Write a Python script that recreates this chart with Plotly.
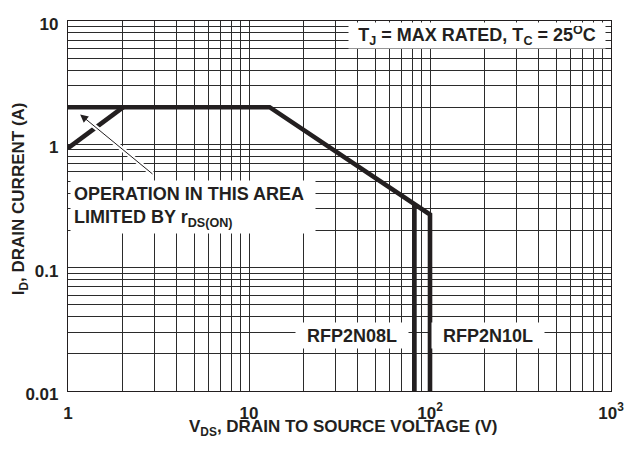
import plotly.graph_objects as go

# ---------------- data ----------------
# Safe operating area boundary for RFP2N10L (rated 100 V)
soa_vds = [1, 13, 100, 100]
soa_id = [2.0, 2.0, 0.27, 0.01]
# RFP2N08L voltage limit
n08_vds = [82, 82]
n08_id = [0.33, 0.01]
# rDS(on) limited line
rds_vds = [1, 2.02]
rds_id = [0.93, 2.0]

x_major = [1, 10, 100, 1000]
x_major_text = ["1", "10", "10<sup>2</sup>", "10<sup>3</sup>"]
x_minor = [m * 10 ** k for k in range(0, 3) for m in range(2, 10)]
y_major = [0.01, 0.1, 1, 10]
y_major_text = ["0.01", "0.1", "1", "10"]
y_minor = [m * 10 ** k for k in range(-2, 1) for m in range(2, 10)]

FONT = "Liberation Sans, Arial, Helvetica, sans-serif"
INK = "#231f20"
GRID = "#2b2b2b"

fig = go.Figure()
line_style = dict(color=INK, width=4.6)
fig.add_trace(go.Scatter(x=soa_vds, y=soa_id, mode="lines", line=line_style,
                         showlegend=False, hoverinfo="skip"))
fig.add_trace(go.Scatter(x=n08_vds, y=n08_id, mode="lines", line=line_style,
                         showlegend=False, hoverinfo="skip"))
fig.add_trace(go.Scatter(x=rds_vds, y=rds_id, mode="lines", line=line_style,
                         showlegend=False, hoverinfo="skip"))

tick_font = dict(family=FONT, size=17, color=INK, weight="bold")
title_font = dict(family=FONT, size=17, color=INK, weight="bold")
axis_common = dict(
    type="log", tickmode="array", showgrid=True, gridcolor=GRID, gridwidth=1,
    showline=True, linecolor=INK, linewidth=1.2, mirror=True, ticks="",
    zeroline=False, ticklabeloverflow="allow", tickfont=tick_font,
)

fig.update_xaxes(**axis_common, range=[0, 3], tickvals=x_major, ticktext=x_major_text,
                 ticklabelstandoff=6,
                 minor=dict(tickmode="array", tickvals=x_minor, showgrid=True,
                            gridcolor=GRID, gridwidth=1, ticks=""))
fig.update_yaxes(**axis_common, range=[-2, 1], tickvals=y_major, ticktext=y_major_text,
                 ticklabelstandoff=5, ticklabelshift=3,
                 minor=dict(tickmode="array", tickvals=y_minor, showgrid=True,
                            gridcolor=GRID, gridwidth=1, ticks=""))

# axis titles as annotations for precise placement
fig.add_annotation(x=0.506, y=-0.064, xref="paper", yref="paper",
                   xanchor="center", yanchor="top", showarrow=False,
                   text="V<sub>DS</sub>, DRAIN TO SOURCE VOLTAGE (V)", font=title_font)
fig.add_annotation(x=-0.089, y=0.52, xref="paper", yref="paper",
                   xanchor="center", yanchor="middle", showarrow=False, textangle=-90,
                   text="I<sub>D</sub>, DRAIN CURRENT (A)", font=title_font)

ann_font = dict(family=FONT, size=18, color=INK, weight="bold")
# arrow halo (white) and arrow
fig.add_annotation(x=0.067, y=0.242, xref="x", yref="y", ax=0.475, ay=-0.25,
                   axref="x", ayref="y", showarrow=True, arrowhead=0,
                   arrowwidth=5, arrowcolor="white", text="", standoff=8)
fig.add_annotation(x=0.067, y=0.242, xref="x", yref="y", ax=0.475, ay=-0.25,
                   axref="x", ayref="y", showarrow=True, arrowhead=2,
                   arrowsize=1.6, arrowwidth=1, arrowcolor=INK, text="")

fig.add_annotation(x=0.0125, y=-0.29, xref="x", yref="y", xanchor="left", yanchor="top",
                   text="OPERATION IN THIS AREA<br>LIMITED BY r<sub>DS(ON)</sub>",
                   showarrow=False, align="left", bgcolor="white", borderpad=3,
                   width=238, height=46, font=ann_font)
fig.add_annotation(x=2.974, y=0.989, xref="x", yref="y", xanchor="right", yanchor="top",
                   text="T<sub>J</sub> = MAX RATED, T<sub>C</sub> = 25<sup>O</sup>C",
                   showarrow=False, align="center", bgcolor="white", borderpad=3,
                   width=250, height=19, font=ann_font)
fig.add_annotation(x=1.5705, y=-1.554, xref="x", yref="y",
                   text="RFP2N08L", showarrow=False, bgcolor="white", borderpad=3,
                   width=106, height=19, font=ann_font)
fig.add_annotation(x=2.3218, y=-1.554, xref="x", yref="y",
                   text="RFP2N10L", showarrow=False, bgcolor="white", borderpad=3,
                   width=106, height=19, font=ann_font)

fig.update_layout(
    width=636, height=450,
    margin=dict(l=68, r=17, t=21, b=59),
    paper_bgcolor="white", plot_bgcolor="white",
    font=dict(family=FONT, color=INK),
    showlegend=False,
)

# remove the default page margin so the 636x450 figure fills the window exactly
fig.write_html("out.html",
               config={"displayModeBar": False},
               post_script="document.body.style.margin='0px';"
                           "document.body.style.overflow='hidden';")
